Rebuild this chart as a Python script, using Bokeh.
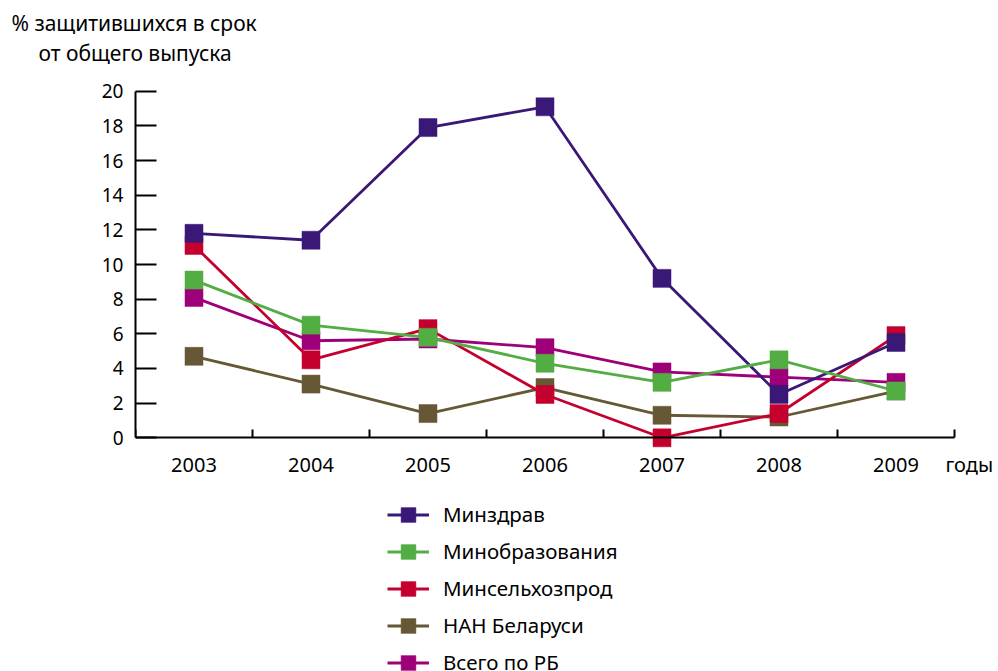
from bokeh.plotting import figure
from bokeh.models import Range1d, FixedTicker, Legend, LegendItem, Label, LinearAxis, Title
from bokeh.embed import file_html
from bokeh.resources import INLINE

# ---- data ----
years = [2003, 2004, 2005, 2006, 2007, 2008, 2009]
minzdrav = [11.8, 11.4, 17.9, 19.1, 9.2, 2.5, 5.5]
minobr = [9.1, 6.5, 5.8, 4.3, 3.2, 4.5, 2.7]
minselhoz = [11.1, 4.5, 6.3, 2.5, 0.0, 1.4, 5.9]
nan_rb = [4.7, 3.1, 1.4, 2.9, 1.3, 1.2, 2.7]
total_rb = [8.1, 5.6, 5.7, 5.2, 3.8, 3.5, 3.2]
series_names = ["Минздрав", "Минобразования", "Минсельхозпрод", "НАН Беларуси", "Всего по РБ"]
y_ticks = list(range(0, 21, 2))
y_title = ["% защитившихся в срок", "от общего выпуска"]
x_title = "годы"

FONT = "Noto Sans"
colors = {
    "Минздрав": "#3a1878",
    "Минобразования": "#52ad43",
    "Минсельхозпрод": "#c4002f",
    "НАН Беларуси": "#665835",
    "Всего по РБ": "#9e0079",
}
values = {
    "Минздрав": minzdrav,
    "Минобразования": minobr,
    "Минсельхозпрод": minselhoz,
    "НАН Беларуси": nan_rb,
    "Всего по РБ": total_rb,
}

W, H = 998, 671
LEFT, TOP = 135, 66
PX_X = 117.0      # px per year
PX_Y = 17.33      # px per unit
Y0 = 437.3        # pixel row of y = 0
Y20 = 90.7        # pixel row of y = 20

x_start = years[0] - 0.5
x_end = x_start + (W - LEFT) / PX_X
y_end = 20 + (Y20 - TOP) / PX_Y
y_start = -(H - Y0) / PX_Y

p = figure(width=W, height=H,
           x_range=Range1d(x_start, x_end),
           y_range=Range1d(y_start, y_end),
           x_axis_location=None,
           output_backend="svg", toolbar_location=None,
           min_border_left=LEFT, min_border_right=0,
           min_border_top=TOP, min_border_bottom=0)
p.outline_line_color = None
p.xgrid.visible = False
p.ygrid.visible = False
p.background_fill_color = None
p.border_fill_color = None

# x axis (drawn at y = 0, ticks between the years pointing up, labels below)
xa = LinearAxis(fixed_location=0, bounds=(years[0] - 0.5, years[-1] + 0.5))
xa.ticker = FixedTicker(ticks=years, minor_ticks=[y - 0.5 for y in years] + [years[-1] + 0.5])
xa.major_tick_in = 0
xa.major_tick_out = 0
xa.minor_tick_in = 0
xa.minor_tick_out = 8
xa.minor_tick_line_width = 2
xa.minor_tick_line_color = "black"
xa.axis_line_width = 2
xa.axis_line_color = "black"
xa.major_label_text_font = FONT
xa.major_label_text_font_size = "20px"
xa.major_label_text_color = "black"
xa.major_label_standoff = -42
p.add_layout(xa, "above")

# y axis
ya = p.yaxis[0]
ya.bounds = (0, 20)
ya.ticker = FixedTicker(ticks=y_ticks)
ya.major_tick_in = 21
ya.major_tick_out = 0
ya.major_tick_line_width = 2
ya.major_tick_line_color = "black"
ya.minor_tick_line_color = None
ya.axis_line_width = 2
ya.axis_line_color = "black"
ya.major_label_text_font = FONT
ya.major_label_text_font_size = "19px"
ya.major_label_text_color = "black"
ya.major_label_standoff = 12

draw_order = ["НАН Беларуси", "Всего по РБ", "Минсельхозпрод", "Минздрав", "Минобразования"]
rends = {}
for name in draw_order:
    c = colors[name]
    lr = p.line(years, values[name], line_color=c, line_width=2.8)
    sr = p.scatter(years, values[name], marker="square", size=18,
                   fill_color=c, line_color=c, line_width=0.5)
    rends[name] = [lr, sr]

items = [LegendItem(label=n, renderers=rends[n]) for n in series_names]
legend = Legend(items=items, location=(252, -9.5),
                glyph_width=42, glyph_height=37, spacing=0,
                padding=0, margin=0, label_standoff=14,
                label_text_font=FONT, label_text_font_size="20.5px",
                label_text_color="black", label_height=37,
                border_line_color=None, background_fill_alpha=0)
p.add_layout(legend)

# y title: two lines above the plot, centred on the y axis
p.add_layout(Title(text=y_title[1], align="left", offset=-97, standoff=0,
                   text_font=FONT, text_font_size="21px", text_font_style="normal",
                   text_color="black"), "above")
p.add_layout(Title(text=y_title[0], align="left", offset=-124, standoff=0,
                   text_font=FONT, text_font_size="21px", text_font_style="normal",
                   text_color="black"), "above")

# x title
p.add_layout(Label(x=years[-1] + 0.5, y=0, x_offset=-9, y_offset=-27, text=x_title,
                   text_align="left", text_baseline="alphabetic",
                   text_font=FONT, text_font_size="20px", text_color="black"))

open("out.html", "w").write(file_html(p, INLINE))
